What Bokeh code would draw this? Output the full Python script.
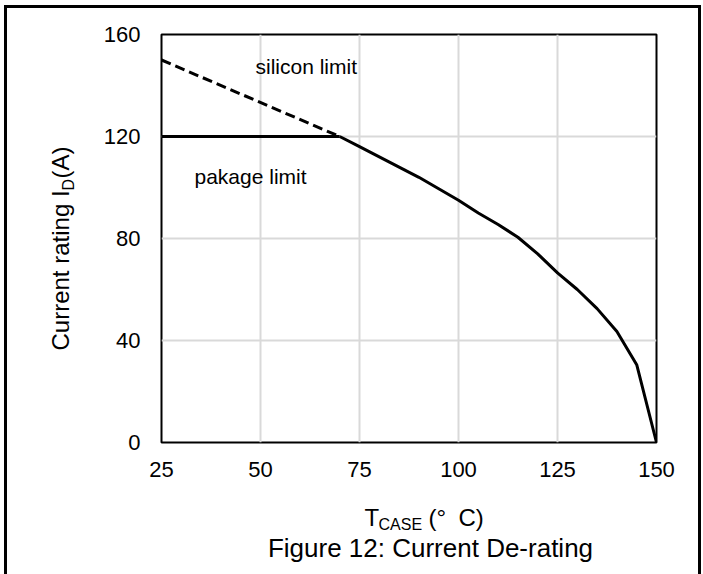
import math
from bokeh.plotting import figure
from bokeh.models import Range1d, FixedTicker, Label
from bokeh.embed import file_html
from bokeh.resources import INLINE

# ---- data ----
temp_silicon = [25, 70]
cur_silicon = [150, 120]
temp_package = [25, 70]
cur_package = [120, 120]
temp_curve = [70, 75, 80, 85, 90, 95, 100, 105, 110, 115, 120, 125, 130, 135, 140, 145, 150]
cur_curve = [120, 116, 112, 108, 104, 99.5, 95, 90, 85.5, 80.5, 74, 66.5, 60, 52.5, 43.5, 30.5, 0]
x_ticks = [25, 50, 75, 100, 125, 150]
y_ticks = [0, 40, 80, 120, 160]

FONT = "Liberation Sans"

p = figure(
    frame_width=495, frame_height=408,
    min_border_left=154, min_border_top=26, min_border_right=42, min_border_bottom=131,
    x_range=Range1d(25, 150), y_range=Range1d(0, 160),
    output_backend="svg", toolbar_location=None,
)
p.styles = {
    "margin-left": "4px",
    "margin-top": "5px",
    "border-top": "3px solid black",
    "border-left": "3px solid black",
    "border-right": "3px solid black",
}

p.outline_line_color = "black"
p.outline_line_width = 2
p.background_fill_color = "white"
p.border_fill_color = "white"

for ax in (p.xaxis, p.yaxis):
    ax.axis_line_color = None
    ax.major_tick_line_color = None
    ax.minor_tick_line_color = None
    ax.major_tick_out = 0
    ax.major_tick_in = 0
    ax.minor_tick_out = 0
    ax.minor_tick_in = 0
    ax.major_label_text_font = FONT
    ax.major_label_text_font_size = "22px"
    ax.major_label_text_color = "black"
p.xaxis.ticker = FixedTicker(ticks=x_ticks)
p.yaxis.ticker = FixedTicker(ticks=y_ticks)
p.xaxis.major_label_standoff = 19
p.yaxis.major_label_standoff = 21

p.xgrid.ticker = FixedTicker(ticks=x_ticks)
p.ygrid.ticker = FixedTicker(ticks=y_ticks)
for g in (p.xgrid, p.ygrid):
    g.grid_line_color = "#d9d9d9"
    g.grid_line_width = 2

p.line(temp_silicon, cur_silicon, line_color="black", line_width=3, line_dash="10 5")
p.line(temp_package, cur_package, line_color="black", line_width=3)
p.line(temp_curve, cur_curve, line_color="black", line_width=3, line_join="round")

# page pixel -> canvas pixel (canvas starts at page 7, 8)
def cx(px):
    return px - 7

def cy(py):
    return py - 8

def lab(text, x, y, size, place="center", rotated=False, **kw):
    # (x, y): wanted page position of the text start on its baseline
    s = float(size.replace("px", ""))
    if rotated:
        x, y = x - 0.5 * s, y
    else:
        x, y = x - 4, y - 0.5 * s
    lbl = Label(x=cx(x), y=cy(y), x_units="canvas", y_units="canvas", text=text,
                text_font=FONT, text_font_size=size, text_color="black",
                text_baseline="alphabetic",
                angle=(math.pi / 2 if rotated else 0), **kw)
    if place == "center":
        p.add_layout(lbl)
    else:
        p.add_layout(lbl, place)

# annotations inside the plot
lab("silicon limit", 256, 73, "21px")
lab("pakage limit", 195, 183, "21px")

# x-axis label: T_CASE (°  C)
lab("T", 365, 526, "24px", "below")
lab("CASE", 379, 529, "16px", "below")
lab("(°", 429, 526, "24px", "below")
lab("C)", 459, 526, "24px", "below")

# title
lab("Figure 12: Current De-rating", 431, 557, "26px", "below", text_align="center")

# y-axis label (rotated): Current rating I_D(A)
lab("Current rating I", 69, 347, "24px", "left", rotated=True)
lab("D", 73, 187, "16px", "left", rotated=True)
lab("(A)", 69, 175, "24px", "left", rotated=True)

open("out.html", "w").write(file_html(p, INLINE))
